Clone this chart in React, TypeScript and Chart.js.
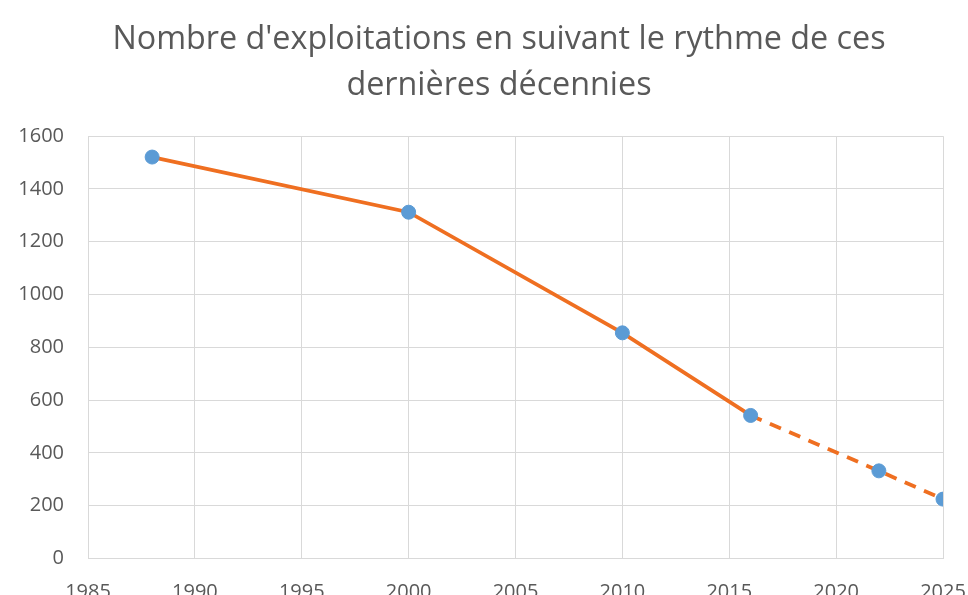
import React, { useEffect, useRef } from "react";
import { Chart, registerables } from "chart.js";

Chart.register(...registerables);

const titleLines = ["Nombre d'exploitations en suivant le rythme de ces", "dernières décennies"];
const years = [1988, 2000, 2010, 2016, 2022, 2025];
const exploitations = [1521, 1312, 855, 542, 332, 225];
const projectionStart = 2016;
const xMin = 1985;
const xMax = 2025;
const xStep = 5;
const yMin = 0;
const yMax = 1600;
const yStep = 200;

const FONT = "'Open Sans', sans-serif";
const TEXT = "#595959";
const GRID = "#D9D9D9";

export default function App() {
  const ref = useRef<HTMLCanvasElement | null>(null);

  useEffect(() => {
    document.body.style.margin = "0";
    document.body.style.overflow = "hidden";
    const canvas = ref.current;
    if (!canvas) return;
    const chart = new Chart(canvas, {
      type: "line",
      data: {
        datasets: [
          {
            data: years.map((y, i) => ({ x: y, y: exploitations[i] })),
            borderColor: "#EF6F21",
            borderWidth: 3.8,
            backgroundColor: "#5B9BD5",
            pointBackgroundColor: "#5B9BD5",
            pointBorderColor: "#5B9BD5",
            pointBorderWidth: 1,
            pointRadius: 7,
            tension: 0,
            segment: {
              borderDash: (ctx: any) =>
                ctx.p0.parsed.x >= projectionStart ? [12, 9] : undefined,
            },
          },
        ],
      },
      options: {
        responsive: false,
        animation: false,
        devicePixelRatio: 1,
        layout: { padding: 0 },
        plugins: {
          legend: { display: false },
          tooltip: { enabled: false },
          title: {
            display: true,
            text: titleLines,
            color: TEXT,
            font: { family: FONT, size: 32.3, weight: "normal", lineHeight: "45.6px" },
            padding: { top: 17, bottom: 28 },
          },
        },
        scales: {
          x: {
            type: "linear",
            min: xMin,
            max: xMax,
            afterBuildTicks: (s: any) => {
              const t = [];
              for (let v = xMin; v <= xMax; v += xStep) t.push({ value: v });
              s.ticks = t;
            },
            ticks: {
              color: TEXT,
              font: { family: FONT, size: 20 },
              padding: 22,
              maxRotation: 0,
              autoSkip: false,
              callback: (v: any) => String(v),
            },
            grid: { color: GRID, lineWidth: 1, drawTicks: false },
            border: { color: GRID, width: 1 },
            afterFit: (s: any) => {
              s.height = 81.5;
            },
          },
          y: {
            min: yMin,
            max: yMax,
            ticks: {
              stepSize: yStep,
              color: TEXT,
              font: { family: FONT, size: 20 },
              padding: 24,
              callback: (v: any) => String(v),
            },
            grid: { color: GRID, lineWidth: 1, drawTicks: false },
            border: { color: GRID, width: 1 },
            afterFit: (s: any) => {
              s.width = 88;
            },
          },
          spacer: {
            position: "right",
            display: true,
            ticks: { display: false },
            grid: { display: false, drawTicks: false },
            border: { display: false },
            afterFit: (s: any) => {
              s.width = 55;
            },
          },
        },
      },
    });
    return () => chart.destroy();
  }, []);

  return (
    <div style={{ position: "fixed", left: 0, top: 0, width: 998, height: 640 }}>
      <canvas ref={ref} width={998} height={640} />
    </div>
  );
}
